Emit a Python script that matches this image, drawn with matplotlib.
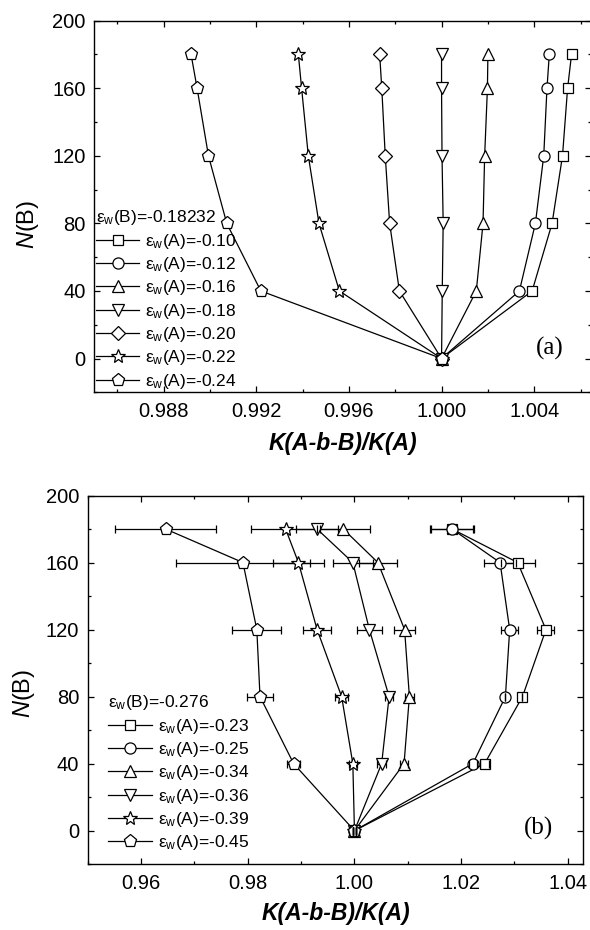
import matplotlib
matplotlib.use('Agg')
import matplotlib.pyplot as plt
from matplotlib.ticker import MultipleLocator, FormatStrFormatter

plt.rcParams['font.family'] = ['Liberation Sans', 'DejaVu Sans']
plt.rcParams['mathtext.fontset'] = 'custom'
plt.rcParams['mathtext.rm'] = 'Liberation Sans'
plt.rcParams['mathtext.it'] = 'Liberation Sans:italic'
plt.rcParams['mathtext.bf'] = 'Liberation Sans:bold'

# ---------------- data ----------------
N_B = [0, 40, 80, 120, 160, 180]

# panel (a)
eps_B_a = '-0.18232'
eps_A_a = ['-0.10', '-0.12', '-0.16', '-0.18', '-0.20', '-0.22', '-0.24']
ratio_a_m010 = [1.0000, 1.00391, 1.00477, 1.00522, 1.00544, 1.00561]
ratio_a_m012 = [1.0000, 1.00336, 1.00405, 1.00441, 1.00455, 1.00465]
ratio_a_m016 = [1.0000, 1.00150, 1.00179, 1.00186, 1.00198, 1.00200]
ratio_a_m018 = [1.0000, 1.00003, 1.00007, 1.00002, 1.00000, 1.00000]
ratio_a_m020 = [1.0000, 0.99818, 0.99776, 0.99757, 0.99742, 0.99733]
ratio_a_m022 = [1.0000, 0.99559, 0.99471, 0.99425, 0.99396, 0.99382]
ratio_a_m024 = [1.0000, 0.99220, 0.99073, 0.98994, 0.98945, 0.98919]
ratios_a = [ratio_a_m010, ratio_a_m012, ratio_a_m016, ratio_a_m018,
            ratio_a_m020, ratio_a_m022, ratio_a_m024]

# panel (b)
eps_B_b = '-0.276'
eps_A_b = ['-0.23', '-0.25', '-0.34', '-0.36', '-0.39', '-0.45']
ratio_b_m023 = [1.0000, 1.0244, 1.0315, 1.0359, 1.0306, 1.0183]
ratio_b_m025 = [1.0000, 1.0222, 1.0283, 1.0291, 1.0273, 1.0183]
ratio_b_m034 = [1.0000, 1.0093, 1.0103, 1.0094, 1.0044, 0.9979]
ratio_b_m036 = [1.0000, 1.0051, 1.0065, 1.0028, 0.9997, 0.9930]
ratio_b_m039 = [1.0000, 0.9997, 0.9976, 0.9930, 0.9895, 0.9871]
ratio_b_m045 = [1.0000, 0.9886, 0.9823, 0.9817, 0.9791, 0.9646]
ratios_b = [ratio_b_m023, ratio_b_m025, ratio_b_m034, ratio_b_m036,
            ratio_b_m039, ratio_b_m045]

err_b_m023 = [0.0003, 0.0008, 0.0000, 0.0016, 0.0032, 0.0040]
err_b_m025 = [0.0003, 0.0007, 0.0000, 0.0016, 0.0030, 0.0041]
err_b_m034 = [0.0003, 0.0008, 0.0008, 0.0019, 0.0036, 0.0050]
err_b_m036 = [0.0003, 0.0008, 0.0008, 0.0024, 0.0037, 0.0040]
err_b_m039 = [0.0003, 0.0008, 0.0012, 0.0027, 0.0048, 0.0065]
err_b_m045 = [0.0003, 0.0012, 0.0024, 0.0046, 0.0125, 0.0095]
errs_b = [err_b_m023, err_b_m025, err_b_m034, err_b_m036, err_b_m039, err_b_m045]

# ---------------- style ----------------
markers_a = ['s', 'o', '^', 'v', 'D', '*', 'p']
markers_b = ['s', 'o', '^', 'v', '*', 'p']
msize = {'s': 7.5, 'o': 8.0, '^': 9.0, 'v': 9.0, 'D': 7.0, '*': 10.5, 'p': 9.5}
LW = 0.9

fig = plt.figure(figsize=(5.9, 9.3), dpi=100)
W, H = 590.0, 930.0
ax1 = fig.add_axes([94 / W, 1 - 392.3 / H, 497 / W, 371.6 / H])
ax2 = fig.add_axes([87.7 / W, 1 - 864.2 / H, 495.6 / W, 368.7 / H])


def style(ax):
    ax.tick_params(which='both', direction='in', top=True, right=True,
                   width=0.9, labelsize=14.5, colors='black')
    ax.tick_params(which='major', length=4)
    ax.tick_params(which='minor', length=2.2)
    ax.tick_params(axis='x', pad=7)
    ax.tick_params(axis='y', pad=6)
    for s in ax.spines.values():
        s.set_linewidth(1.0)
    ax.yaxis.set_major_locator(MultipleLocator(40))
    ax.yaxis.set_minor_locator(MultipleLocator(20))
    ax.set_ylim(-20, 200)


eps_txt = 'ε$_{\\mathrm{w}}$'

# ---- panel (a) ----
for r, m, e in zip(ratios_a, markers_a, eps_A_a):
    ax1.plot(r, N_B, color='black', lw=LW, marker=m, ms=msize[m],
             mfc='white', mec='black', mew=0.9,
             label=eps_txt + '(A)=' + e)
style(ax1)
ax1.set_xlim(0.985, 1.00645)
ax1.xaxis.set_major_locator(MultipleLocator(0.004))
ax1.xaxis.set_minor_locator(MultipleLocator(0.002))
ax1.xaxis.set_major_formatter(FormatStrFormatter('%.3f'))

# ---- panel (b) ----
for r, er, m, e in zip(ratios_b, errs_b, markers_b, eps_A_b):
    dl, caps, bars = ax2.errorbar(r, N_B, xerr=er, fmt='none', ecolor='black',
                                  elinewidth=LW, capsize=2.6, capthick=LW)
    for b in bars:
        b.set_zorder(1.5)
    for c in caps:
        c.set_zorder(3)
    ax2.plot(r, N_B, color='black', lw=LW, marker=m, ms=msize[m],
             mfc='white', mec='black', mew=0.9, zorder=2,
             label=eps_txt + '(A)=' + e)
style(ax2)
ax2.set_xlim(0.95, 1.0429)
ax2.xaxis.set_major_locator(MultipleLocator(0.02))
ax2.xaxis.set_minor_locator(MultipleLocator(0.01))
ax2.xaxis.set_major_formatter(FormatStrFormatter('%.2f'))

# ---- labels ----
for ax, xc, xl_y, yl_x, yl_y in [(ax1, 0.5, -0.137, -0.1328, 0.453),
                                 (ax2, 0.5, -0.135, -0.1295, 0.464)]:
    ax.set_xlabel('K(A-b-B)/K(A)', fontsize=16.5, style='italic', weight='bold')
    ax.xaxis.label.set_va('center')
    ax.xaxis.set_label_coords(xc, xl_y)
    ax.set_ylabel('$\\mathit{N}$(B)', fontsize=17)
    ax.yaxis.label.set_va('center')
    ax.yaxis.set_label_coords(yl_x, yl_y)

ax1.text(0.944, 0.118, '(a)', transform=ax1.transAxes, ha='right', va='center',
         family='Liberation Serif', fontsize=18)
ax2.text(0.939, 0.097, '(b)', transform=ax2.transAxes, ha='right', va='center',
         family='Liberation Serif', fontsize=18)

# ---- legends ----
common = dict(loc='upper left', frameon=False, fontsize=12.5, title_fontsize=12.5,
              alignment='left', borderpad=0, borderaxespad=0, handlelength=2.5,
              handletextpad=0.35, labelspacing=0.25, numpoints=1)
ax1.legend(title=eps_txt + '(B)=' + eps_B_a, bbox_to_anchor=(0.004, 0.495), **common)
ax2.legend(title=eps_txt + '(B)=' + eps_B_b, bbox_to_anchor=(0.0416, 0.4636), **common)

fig.savefig('out.png', dpi=100)
